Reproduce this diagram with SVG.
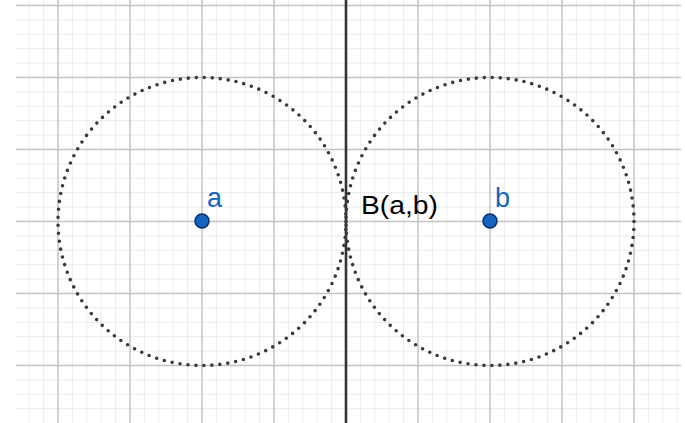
<svg xmlns="http://www.w3.org/2000/svg" width="685" height="423" viewBox="0 0 685 423">
<style>
.minor{stroke:#ebebeb;stroke-width:1;fill:none}
.major{stroke:#c4c4c4;stroke-width:1.5;fill:none}
.circ{fill:none;stroke:#3a3a3a;stroke-width:3.6;stroke-linecap:round;stroke-dasharray:0 8.007}
.pt{fill:#1565c0;stroke:#0b2f66;stroke-width:1.5}
.lbl{font-family:"Liberation Sans",Arial,sans-serif;font-size:27px;fill:#1565c0}
.blk{font-family:"Liberation Sans",Arial,sans-serif;font-size:26px;fill:#000}
</style>
<rect width="685" height="423" fill="#fff"/>
<g id="grid">
<path class="minor" d="M29.2 0V423M43.6 0V423M72.4 0V423M86.8 0V423M101.2 0V423M115.6 0V423M144.4 0V423M158.8 0V423M173.2 0V423M187.6 0V423M216.4 0V423M230.8 0V423M245.2 0V423M259.6 0V423M288.4 0V423M302.8 0V423M317.2 0V423M331.6 0V423M360.4 0V423M374.8 0V423M389.2 0V423M403.6 0V423M432.4 0V423M446.8 0V423M461.2 0V423M475.6 0V423M504.4 0V423M518.8 0V423M533.2 0V423M547.6 0V423M576.4 0V423M590.8 0V423M605.2 0V423M619.6 0V423M648.4 0V423M662.8 0V423M677.2 0V423
M16 19.9H681M16 34.3H681M16 48.7H681M16 63.1H681M16 91.9H681M16 106.3H681M16 120.7H681M16 135.1H681M16 163.9H681M16 178.3H681M16 192.7H681M16 207.1H681M16 235.9H681M16 250.3H681M16 264.7H681M16 279.1H681M16 307.9H681M16 322.3H681M16 336.7H681M16 351.1H681M16 379.9H681M16 394.3H681M16 408.7H681"/>
<path class="major" d="M58 0V423M130 0V423M202 0V423M274 0V423M418 0V423M490 0V423M562 0V423M634 0V423M16 5.5H681M16 77.5H681M16 149.5H681M16 221.5H681M16 293.5H681M16 365.5H681"/>
</g>
<g id="connectors">
<line x1="346" y1="0" x2="346" y2="423" stroke="#333" stroke-width="2.6"/>
</g>
<g id="circle-a"><circle class="circ" cx="202" cy="221.5" r="144"/></g>
<g id="circle-b"><circle class="circ" cx="490" cy="221.5" r="144"/></g>
<g id="point-a">
<circle class="pt" cx="202" cy="221" r="7"/>
<text class="lbl" x="207" y="207">a</text>
</g>
<g id="point-b">
<circle class="pt" cx="490" cy="221" r="7"/>
<text class="lbl" x="495" y="207">b</text>
</g>
<g id="label-B">
<text class="blk" x="361" y="214" textLength="77" lengthAdjust="spacingAndGlyphs">B(a,b)</text>
</g>
</svg>
